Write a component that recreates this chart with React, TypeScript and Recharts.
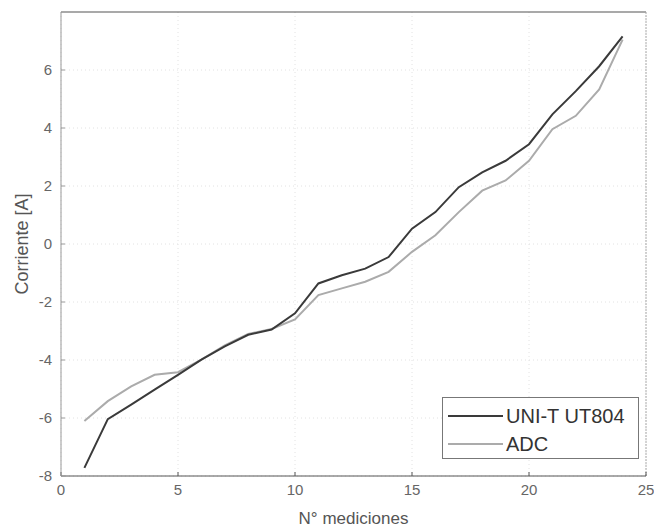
import React from 'react';
import {
  LineChart,
  Line,
  XAxis,
  YAxis,
  CartesianGrid,
  ReferenceLine,
} from 'recharts';

const mediciones = [1, 2, 3, 4, 5, 6, 7, 8, 9, 10, 11, 12, 13, 14, 15, 16, 17, 18, 19, 20, 21, 22, 23, 24];
const uniT = [-7.72, -6.04, -5.54, -5.02, -4.51, -3.99, -3.53, -3.13, -2.95, -2.39, -1.36, -1.08, -0.85, -0.45, 0.53, 1.1, 1.96, 2.47, 2.87, 3.44, 4.47, 5.27, 6.13, 7.16];
const adc = [-6.1, -5.42, -4.91, -4.51, -4.42, -3.99, -3.5, -3.1, -2.93, -2.6, -1.76, -1.53, -1.3, -0.96, -0.27, 0.3, 1.1, 1.84, 2.19, 2.87, 3.96, 4.42, 5.33, 7.05];
const xTicks = [0, 5, 10, 15, 20, 25];
const yTicks = [-8, -6, -4, -2, 0, 2, 4, 6];
const seriesNames = ['UNI-T UT804', 'ADC'];
const seriesColors = ['#3a3a3a', '#ababab'];

const data = mediciones.map((n, i) => ({ n, uni: uniT[i], adc: adc[i] }));

const FONT = '"Liberation Sans", Arial, Helvetica, sans-serif';

export default function App() {
  return (
    <div style={{ position: 'absolute', left: 0, top: 0, width: 654, height: 531, background: '#fff', fontFamily: FONT }}>
      <LineChart width={654} height={531} data={data} margin={{ top: 12, right: 8, left: 0, bottom: 0 }}>
        <CartesianGrid stroke="#e2e2e2" strokeDasharray="1 3" horizontalValues={yTicks} verticalValues={xTicks} />
        <XAxis
          dataKey="n"
          type="number"
          domain={[0, 25]}
          ticks={xTicks}
          height={55}
          tickSize={-4}
          tickMargin={12}
          stroke="#555"
          tick={{ fill: '#666', fontSize: 15, fontFamily: FONT }}
          label={{ value: 'N° mediciones', position: 'center', dy: 14, fill: '#555', fontSize: 17, fontFamily: FONT }}
        />
        <YAxis
          type="number"
          domain={[-8, 8]}
          ticks={yTicks}
          width={61}
          tickSize={-4}
          tickMargin={13}
          stroke="#999"
          tick={{ fill: '#666', fontSize: 15, fontFamily: FONT }}
          label={{ value: 'Corriente [A]', angle: -90, position: 'center', dx: -9, fill: '#555', fontSize: 18, fontFamily: FONT }}
        />
        <ReferenceLine y={8} stroke="#555" strokeWidth={1.2} />
        <ReferenceLine x={25} stroke="#aaa" strokeDasharray="2 1" />
        <Line type="linear" dataKey="adc" name={seriesNames[1]} stroke={seriesColors[1]} strokeWidth={2} dot={false} isAnimationActive={false} />
        <Line type="linear" dataKey="uni" name={seriesNames[0]} stroke={seriesColors[0]} strokeWidth={2} dot={false} isAnimationActive={false} />
      </LineChart>
      <div
        style={{
          position: 'absolute',
          left: 442,
          top: 397,
          width: 197,
          height: 62,
          border: '1px solid #777',
          background: '#fff',
          boxSizing: 'border-box',
        }}
      >
        {seriesNames.map((name, i) => (
          <div key={name} style={{ position: 'absolute', left: 5, top: i === 0 ? 6 : 34, height: 24, display: 'flex', alignItems: 'center' }}>
            <div style={{ width: 55, height: 0, borderTop: `2px solid ${seriesColors[i]}` }} />
            <span style={{ marginLeft: 3, fontSize: 20, color: '#333', fontFamily: FONT, lineHeight: '24px', whiteSpace: 'nowrap' }}>{name}</span>
          </div>
        ))}
      </div>
    </div>
  );
}
